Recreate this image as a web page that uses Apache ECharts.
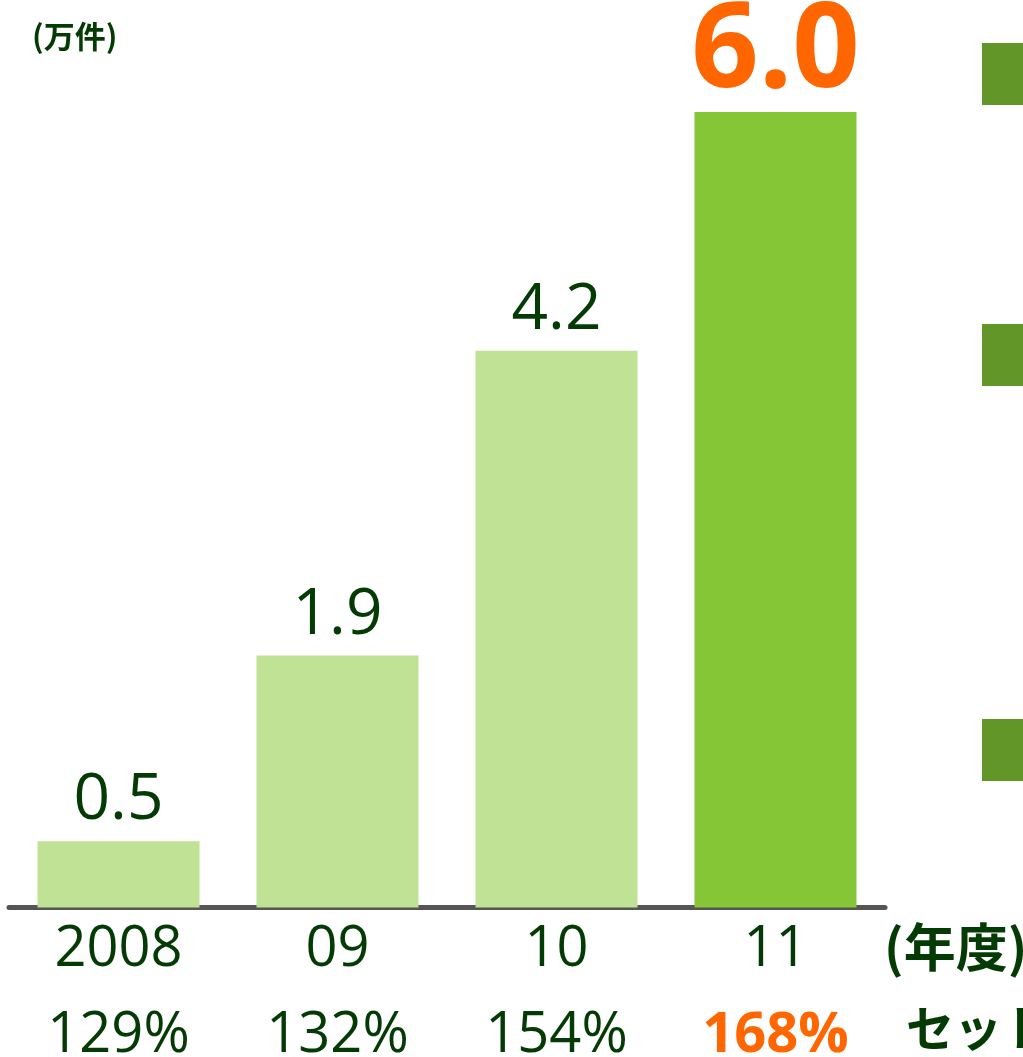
<!DOCTYPE html>
<html>
<head>
<meta charset="utf-8">
<script src="https://cdn.jsdelivr.net/npm/echarts@6/dist/echarts.min.js"></script>
<style>
html,body{margin:0;padding:0;background:#fff;overflow:hidden;}
#main{width:1023px;height:1057px;}
</style>
</head>
<body>
<div id="main"></div>
<script>
const categories = ['2008', '09', '10', '11'];
const values = [0.5, 1.9, 4.2, 6.0];
const ratios = ['129%', '132%', '154%', '168%'];
const unitLabel = '(万件)';
const yearLabel = '(年度)';
const ratioLabel = 'セット';

const FONT = "'Open Sans', 'Noto Sans CJK JP', sans-serif";
const CJK = "'Noto Sans CJK JP', sans-serif";
const DARK = '#043a04';
const ORANGE = '#ff6600';
const LIGHT_BAR = '#c0e294';
const HL_BAR = '#84c636';
const SQUARE = '#629628';
const last = values.length - 1;

const chart = echarts.init(document.getElementById('main'), null, {renderer: 'canvas'});
chart.setOption({
  animation: false,
  backgroundColor: '#fff',
  grid: {left: 9, width: 876, top: 112, bottom: 149.5, containLabel: false, outerBoundsMode: 'none'},
  xAxis: {
    type: 'category',
    data: categories,
    axisLine: {show: true, lineStyle: {color: '#555555', width: 5}},
    axisTick: {show: false},
    axisLabel: {
      margin: 0,
      interval: 0,
      fontFamily: FONT,
      formatter: function (v, i) {
        return '{y|' + v + '}\n' + (i === last ? '{o|' + ratios[i] + '}' : '{p|' + ratios[i] + '}');
      },
      rich: {
        y: {fontSize: 56, lineHeight: 86, color: DARK, fontFamily: FONT},
        p: {fontSize: 56, lineHeight: 86, color: DARK, fontFamily: FONT},
        o: {fontSize: 56, lineHeight: 86, color: ORANGE, fontWeight: 'bold', fontFamily: FONT}
      }
    }
  },
  yAxis: {
    type: 'value',
    min: 0,
    max: 6,
    show: false,
    splitLine: {show: false}
  },
  series: [{
    type: 'bar',
    barWidth: 162,
    data: values.map(function (v, i) {
      const hl = i === last;
      return {
        value: v,
        itemStyle: {color: hl ? HL_BAR : LIGHT_BAR},
        label: hl ? {fontSize: 118, fontWeight: 'bold', color: ORANGE, distance: 0} : {}
      };
    }),
    label: {
      show: true,
      position: 'top',
      distance: 8,
      fontFamily: FONT,
      fontSize: 64,
      color: DARK,
      formatter: function (p) { return p.value.toFixed(1); }
    }
  }],
  graphic: [
    {type: 'text', left: 32, top: 21, style: {text: unitLabel, font: 'bold 31px ' + CJK, fill: DARK}},
    {type: 'text', left: 884, top: 921, style: {text: yearLabel, font: 'bold 52px ' + CJK, fill: DARK}},
    {type: 'text', left: 906, top: 1004, style: {text: ratioLabel, font: 'bold 48px ' + CJK, fill: DARK}},
    {type: 'rect', shape: {x: 982, y: 43, width: 41, height: 62}, style: {fill: SQUARE}},
    {type: 'rect', shape: {x: 982, y: 324, width: 41, height: 62}, style: {fill: SQUARE}},
    {type: 'rect', shape: {x: 982, y: 719, width: 41, height: 62}, style: {fill: SQUARE}}
  ]
});
</script>
</body>
</html>
